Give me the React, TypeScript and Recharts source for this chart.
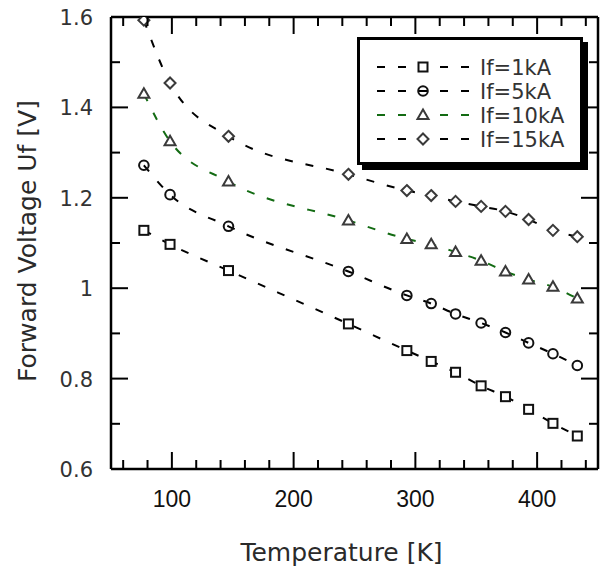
import React from 'react';
import { LineChart, Line, XAxis, YAxis, Legend } from 'recharts';

const temperatures = [77, 98.5, 146.5, 245, 293, 313, 333, 354, 374, 393, 413, 433];
const uf1kA = [1.128, 1.097, 1.039, 0.921, 0.862, 0.838, 0.814, 0.784, 0.76, 0.732, 0.701, 0.673];
const uf5kA = [1.272, 1.207, 1.137, 1.037, 0.984, 0.966, 0.943, 0.923, 0.902, 0.879, 0.855, 0.829];
const uf10kA = [1.43, 1.325, 1.236, 1.15, 1.109, 1.097, 1.08, 1.061, 1.037, 1.019, 1.003, 0.977];
const uf15kA = [1.593, 1.454, 1.336, 1.252, 1.216, 1.205, 1.192, 1.181, 1.17, 1.152, 1.128, 1.114];

const seriesNames = ['If=1kA', 'If=5kA', 'If=10kA', 'If=15kA'];
const seriesKeys = ['a1', 'a5', 'a10', 'a15'];
const seriesColors = ['#000000', '#000000', '#136b13', '#000000'];
const seriesMarkers = ['square', 'circle', 'triangle', 'diamond'];

const xTicks = [60, 80, 100, 120, 140, 160, 180, 200, 220, 240, 260, 280, 300, 320, 340, 360, 380, 400, 420, 440];
const xLabels = [100, 200, 300, 400];
const yTicks = [0.6, 0.7, 0.8, 0.9, 1, 1.1, 1.2, 1.3, 1.4, 1.5, 1.6];
const yLabels = [0.6, 0.8, 1, 1.2, 1.4, 1.6];

const data = temperatures.map((t, i) => ({
  T: t,
  a1: uf1kA[i],
  a5: uf5kA[i],
  a10: uf10kA[i],
  a15: uf15kA[i],
}));

const DASH = '8 13';
const FONT = '"DejaVu Sans", sans-serif';

function marker(kind: string, cx: number, cy: number, key?: string) {
  if (cx == null || cy == null) return <g key={key} />;
  if (kind === 'square') {
    return <rect key={key} x={cx - 4.5} y={cy - 4.5} width={9} height={9} fill="#fff" stroke="#111" strokeWidth={2} />;
  }
  if (kind === 'circle') {
    return <circle key={key} cx={cx} cy={cy} r={4.8} fill="none" stroke="#111" strokeWidth={2} />;
  }
  if (kind === 'triangle') {
    const pts = `${cx},${cy - 5.5} ${cx + 5.5},${cy + 4} ${cx - 5.5},${cy + 4}`;
    return <polygon key={key} points={pts} fill="#fff" stroke="#3a3a3a" strokeWidth={2} />;
  }
  const pts = `${cx},${cy - 5.5} ${cx + 5.5},${cy} ${cx},${cy + 5.5} ${cx - 5.5},${cy}`;
  return <polygon key={key} points={pts} fill="#fff" stroke="#3a3a3a" strokeWidth={2} />;
}

const BottomTick = (props: any) => {
  const { x, y, payload } = props;
  const major = xLabels.includes(payload.value);
  return (
    <g>
      <line x1={x} x2={x} y1={y} y2={y - (major ? 17 : 9)} stroke="#000" strokeWidth={2} />
      {major && (
        <text x={x} y={y + 38} textAnchor="middle" fontFamily='"Liberation Sans", Arial, sans-serif' fontSize={23} fill="#111">
          {payload.value}
        </text>
      )}
    </g>
  );
};

const TopTick = (props: any) => {
  const { x, y, payload } = props;
  const major = xLabels.includes(payload.value);
  return <line x1={x} x2={x} y1={y} y2={y + (major ? 17 : 9)} stroke="#000" strokeWidth={2} />;
};

const LeftTick = (props: any) => {
  const { x, y, payload } = props;
  const major = yLabels.includes(payload.value);
  return (
    <g>
      <line x1={x} x2={x + (major ? 17 : 9)} y1={y} y2={y} stroke="#000" strokeWidth={2} />
      {major && (
        <text x={x - 18} y={y + 8} textAnchor="end" fontFamily={FONT} fontSize={21} fill="#333">
          {String(payload.value)}
        </text>
      )}
    </g>
  );
};

const RightTick = (props: any) => {
  const { x, y, payload } = props;
  const major = yLabels.includes(payload.value);
  return <line x1={x} x2={x - (major ? 17 : 9)} y1={y} y2={y} stroke="#000" strokeWidth={2} />;
};

const LegendBox = () => (
  <div
    style={{
      width: 226,
      height: 128,
      boxSizing: 'border-box',
      border: '3px solid #000',
      background: '#fff',
      boxShadow: '5px 5px 0 #000',
      position: 'relative',
    }}
  >
    <svg width={220} height={122} style={{ position: 'absolute', left: 0, top: 0 }}>
      {seriesNames.map((name, i) => {
        const cy = 27 + 24 * i;
        return (
          <g key={name}>
            <line x1={17} x2={110} y1={cy} y2={cy} stroke={seriesColors[i]} strokeWidth={2} strokeDasharray={DASH} />
            {marker(seriesMarkers[i], 63, cy)}
            <text x={120} y={cy + 8} fontFamily={FONT} fontSize={21} fill="#333">
              {name}
            </text>
          </g>
        );
      })}
    </svg>
  </div>
);

export default function App() {
  return (
    <div style={{ position: 'absolute', left: 0, top: 0, width: 605, height: 570, background: '#fff' }}>
      <LineChart width={605} height={570} data={data} margin={{ top: 16, right: 6, left: 0, bottom: 0 }}>
        <XAxis
          dataKey="T"
          type="number"
          domain={[50, 450]}
          ticks={xTicks}
          interval={0}
          allowDataOverflow
          height={101}
          tickSize={0}
          tickMargin={0}
          tickLine={false}
          tick={<BottomTick />}
          axisLine={{ stroke: '#000', strokeWidth: 2.5 }}
          label={{
            value: 'Temperature [K]',
            position: 'insideBottom',
            offset: 9,
            dx: -13,
            fontSize: 25,
            fontFamily: FONT,
            fill: '#2a2a2a',
          }}
        />
        <XAxis
          xAxisId="top"
          orientation="top"
          dataKey="T"
          type="number"
          domain={[50, 450]}
          ticks={xTicks}
          interval={0}
          allowDataOverflow
          height={1}
          tickSize={0}
          tickMargin={0}
          tickLine={false}
          tick={<TopTick />}
          axisLine={{ stroke: '#000', strokeWidth: 2.5 }}
        />
        <YAxis
          type="number"
          domain={[0.6, 1.6]}
          ticks={yTicks}
          interval={0}
          allowDataOverflow
          width={111}
          tickSize={0}
          tickMargin={0}
          tickLine={false}
          tick={<LeftTick />}
          axisLine={{ stroke: '#000', strokeWidth: 2.5 }}
          label={{
            value: 'Forward Voltage Uf [V]',
            angle: -90,
            position: 'center',
            dx: -28.5,
            dy: -2,
            fontSize: 25,
            fontFamily: FONT,
            fill: '#2a2a2a',
          }}
        />
        <YAxis
          yAxisId="right"
          orientation="right"
          type="number"
          domain={[0.6, 1.6]}
          ticks={yTicks}
          interval={0}
          allowDataOverflow
          width={1}
          tickSize={0}
          tickMargin={0}
          tickLine={false}
          tick={<RightTick />}
          axisLine={{ stroke: '#000', strokeWidth: 2.5 }}
        />
        <Legend
          verticalAlign="middle"
          align="center"
          layout="horizontal"
          wrapperStyle={{ position: 'absolute', left: 357, top: 37, width: 232, height: 134 }}
          content={() => <LegendBox />}
        />
        {seriesKeys.map((k, i) => (
          <Line
            key={k}
            dataKey={k}
            name={seriesNames[i]}
            type="monotone"
            stroke={seriesColors[i]}
            strokeWidth={2}
            strokeDasharray={DASH}
            isAnimationActive={false}
            dot={(p: any) => marker(seriesMarkers[i], p.cx, p.cy, `${k}-${p.index}`)}
            activeDot={false}
          />
        ))}
      </LineChart>
    </div>
  );
}
